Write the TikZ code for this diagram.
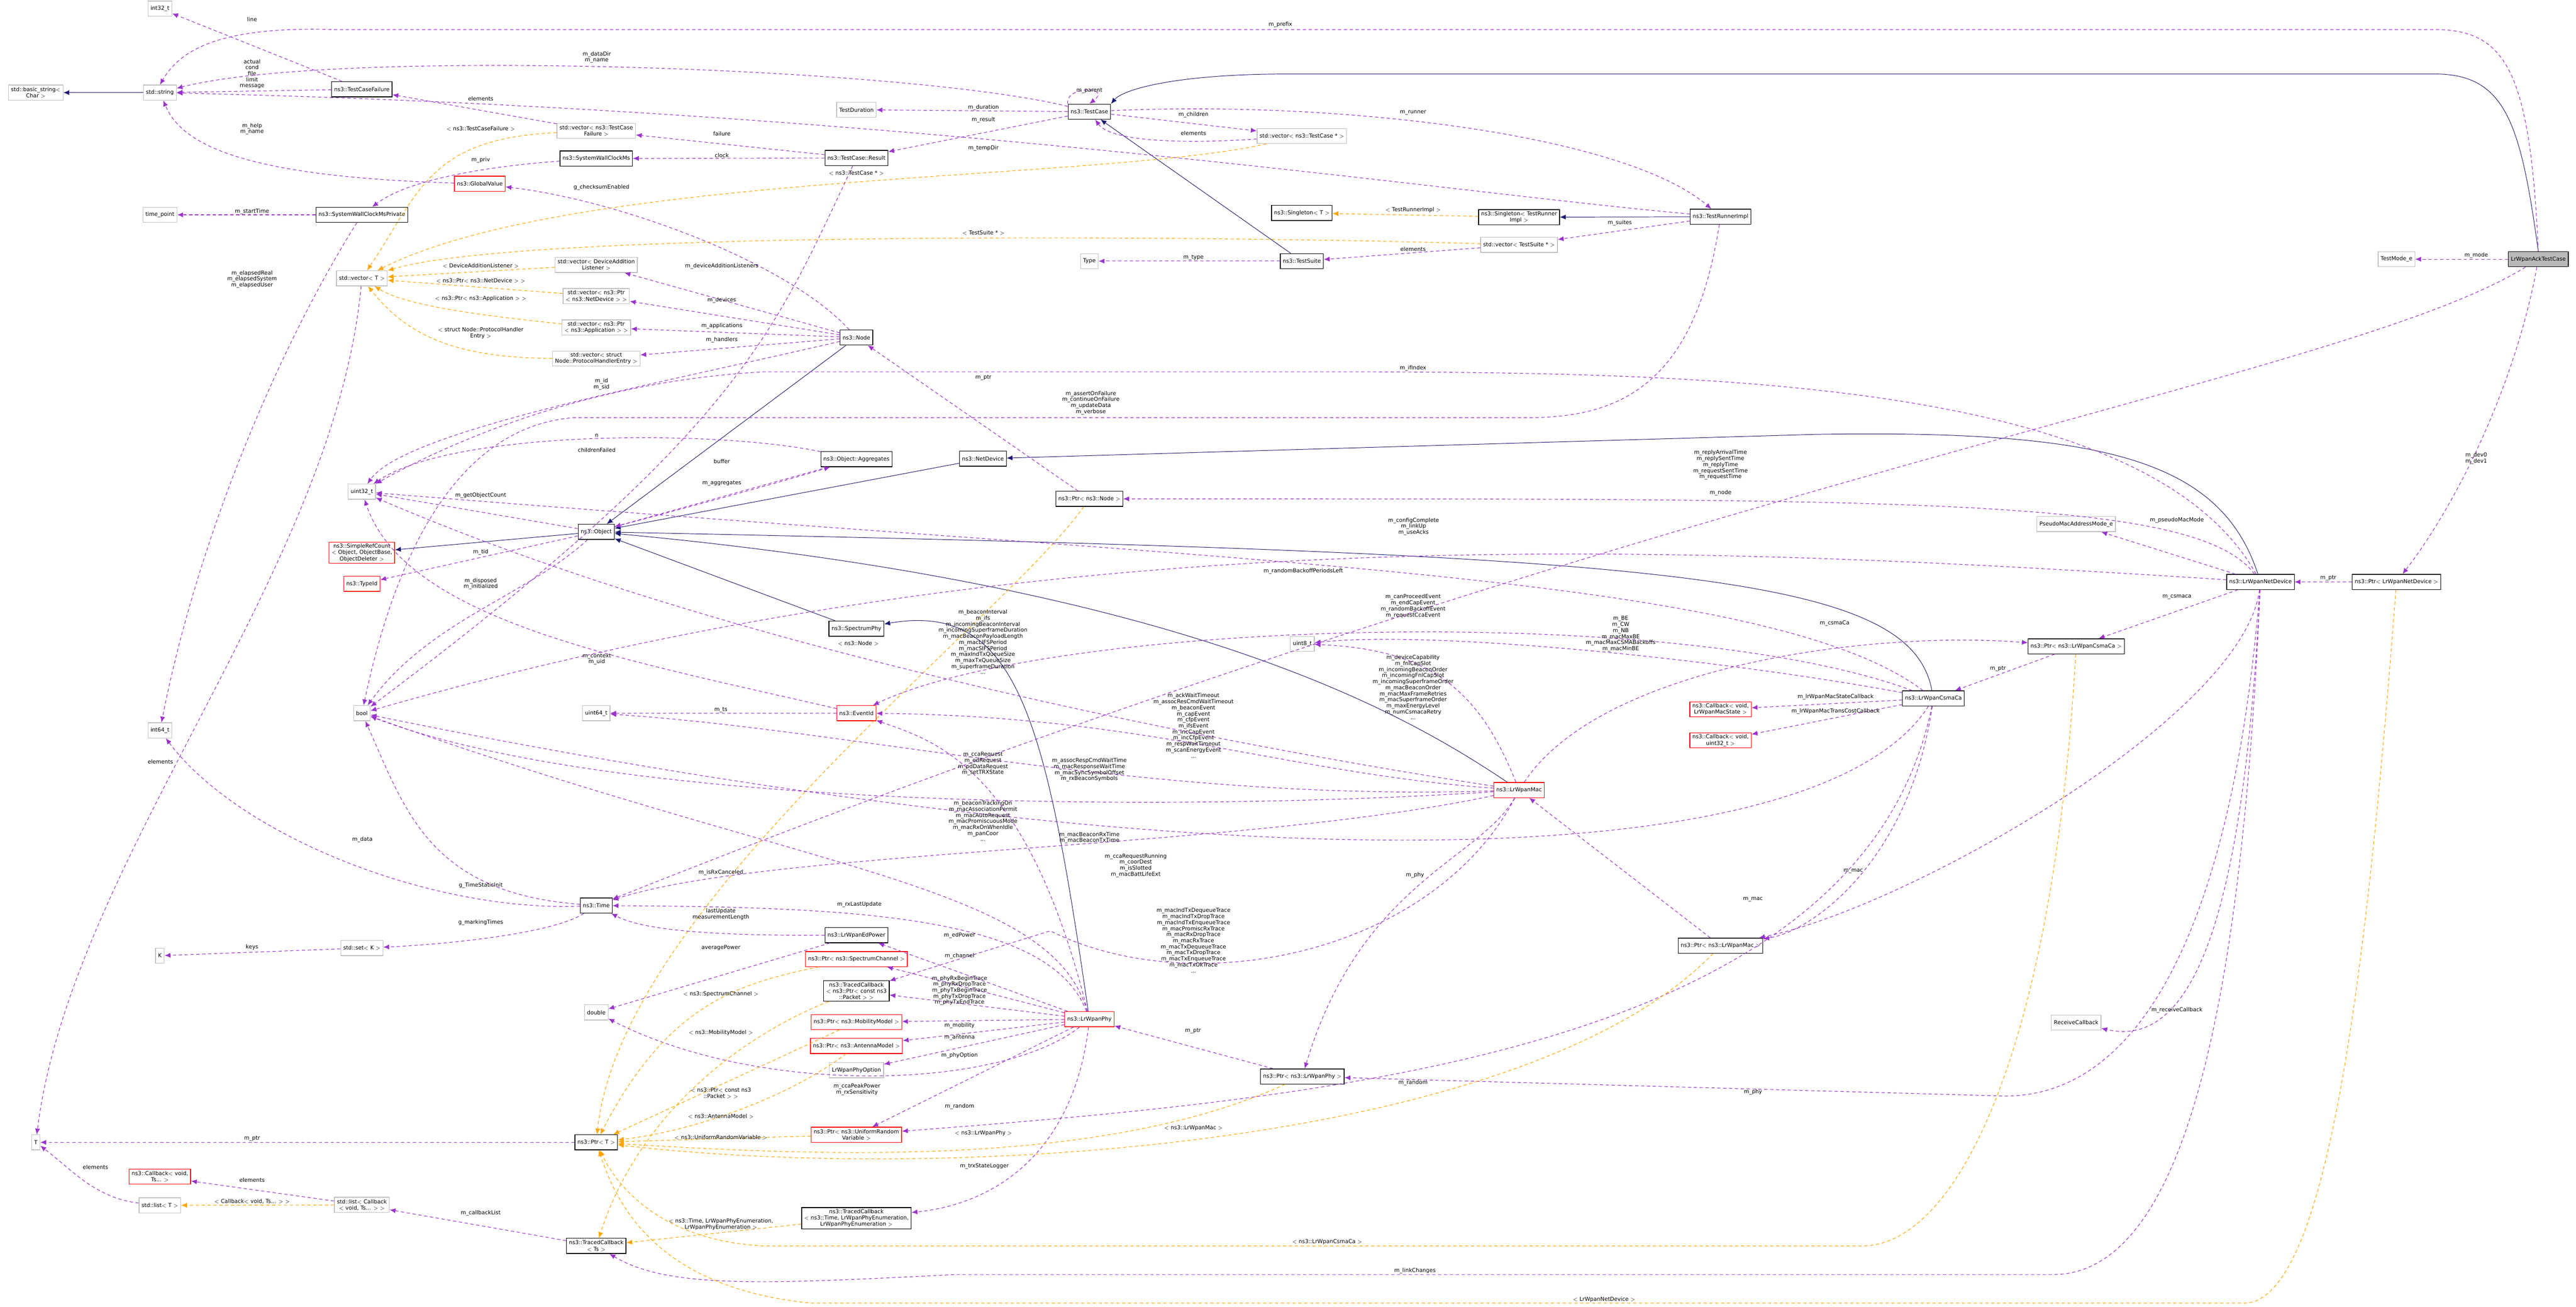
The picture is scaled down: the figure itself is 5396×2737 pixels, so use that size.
\documentclass[tikz,border=0pt]{standalone}
\usepackage{fontspec}
\setmainfont{DejaVu Sans}
\usetikzlibrary{arrows.meta}
\definecolor{usecol}{HTML}{9A32CD}
\definecolor{tplcol}{HTML}{FFA500}
\definecolor{inhcol}{HTML}{191970}
\tikzset{
  box/.style={draw=gray!50, line width=0.8pt, fill=white, font=\fontsize{6.5}{7.5}\selectfont, align=center, inner xsep=3pt, inner ysep=2pt, minimum height=18pt},
  cls/.style={box, draw=black},
  redcls/.style={box, draw=red},
  self/.style={box, fill=gray!55, draw=black},
  lbl/.style={font=\fontsize{6.5}{7.2}\selectfont, align=center, inner sep=0pt},
  use/.style={draw=usecol, line width=0.7pt, dash pattern=on 4pt off 3pt, -{Latex[length=7pt,width=6pt]}},
  tpl/.style={draw=tplcol, line width=0.7pt, dash pattern=on 4pt off 3pt, -{Latex[length=7pt,width=6pt]}},
  inh/.style={draw=inhcol, line width=0.6pt, -{Latex[length=7pt,width=6pt]}}
}
\begin{document}
\begin{tikzpicture}[x=0.02cm,y=-0.02cm]
  \useasboundingbox (0,0) rectangle (5396,2737);

  % left column
  \node[box] (i32) at (335,18) {int32\_t};
  \node[box] (bstr) at (75,194) {std::basic\_string$<$\\Char $>$};
  \node[box] (str) at (335,194) {std::string};
  \node[box] (tpt) at (335,450) {time\_point};
  \node[box] (i64) at (335,1530) {int64\_t};
  \node[box] (k) at (335,2002) {K};
  \node[box] (t) at (75,2393) {T};
  \node[redcls] (cbts) at (335,2465) {ns3::Callback$<$ void,\\Ts... $>$};
  \node[box] (lst) at (335,2525) {std::list$<$ T $>$};

  % second column
  \node[cls] (tcf) at (758,187) {ns3::TestCaseFailure};
  \node[cls] (swcp) at (758,450) {ns3::SystemWallClockMsPrivate};
  \node[box] (vect) at (758,583) {std::vector$<$ T $>$};
  \node[box] (u32) at (758,1030) {uint32\_t};
  \node[redcls] (src) at (758,1158) {ns3::SimpleRefCount\\$<$ Object, ObjectBase,\\ObjectDeleter $>$};
  \node[redcls] (tid) at (758,1223) {ns3::TypeId};
  \node[box] (bool) at (758,1494) {bool};
  \node[box] (setk) at (758,1986) {std::set$<$ K $>$};
  \node[box] (lstcb) at (758,2524) {std::list$<$ Callback\\$<$ void, Ts... $>$ $>$};

  % third column
  \node[box] (vtcf) at (1249,274) {std::vector$<$ ns3::TestCase\\Failure $>$};
  \node[cls] (swc) at (1249,332) {ns3::SystemWallClockMs};
  \node[redcls] (gv) at (1005,385) {ns3::GlobalValue};
  \node[box] (vdal) at (1249,555) {std::vector$<$ DeviceAddition\\Listener $>$};
  \node[box] (vnd) at (1249,620) {std::vector$<$ ns3::Ptr\\$<$ ns3::NetDevice $>$ $>$};
  \node[box] (vapp) at (1249,686) {std::vector$<$ ns3::Ptr\\$<$ ns3::Application $>$ $>$};
  \node[box] (vphe) at (1249,751) {std::vector$<$ struct\\Node::ProtocolHandlerEntry $>$};
  \node[cls] (obj) at (1249,1114) {ns3::Object};
  \node[box] (u64) at (1249,1494) {uint64\_t};
  \node[cls] (time) at (1249,1897) {ns3::Time};
  \node[box] (dbl) at (1249,2121) {double};
  \node[cls] (ptrt) at (1249,2393) {ns3::Ptr$<$ T $>$};
  \node[cls] (tcts) at (1249,2610) {ns3::TracedCallback\\$<$ Ts $>$};

  % fourth column
  \node[box] (tdur) at (1794,230) {TestDuration};
  \node[cls] (tcr) at (1794,331) {ns3::TestCase::Result};
  \node[cls] (node) at (1794,707) {ns3::Node};
  \node[cls] (agg) at (1794,962) {ns3::Object::Aggregates};
  \node[cls] (sphy) at (1794,1317) {ns3::SpectrumPhy};
  \node[redcls] (evt) at (1794,1494) {ns3::EventId};
  \node[cls] (edp) at (1794,1959) {ns3::LrWpanEdPower};
  \node[redcls] (psc) at (1794,2009) {ns3::Ptr$<$ ns3::SpectrumChannel $>$};
  \node[cls] (tcpk) at (1794,2076) {ns3::TracedCallback\\$<$ ns3::Ptr$<$ const ns3\\::Packet $>$ $>$};
  \node[redcls] (pmob) at (1794,2141) {ns3::Ptr$<$ ns3::MobilityModel $>$};
  \node[redcls] (pant) at (1794,2191) {ns3::Ptr$<$ ns3::AntennaModel $>$};
  \node[box] (popt) at (1794,2242) {LrWpanPhyOption};
  \node[redcls] (purv) at (1794,2377) {ns3::Ptr$<$ ns3::UniformRandom\\Variable $>$};
  \node[cls] (tctime) at (1794,2552) {ns3::TracedCallback\\$<$ ns3::Time, LrWpanPhyEnumeration,\\LrWpanPhyEnumeration $>$};

  % middle
  \node[cls] (tc) at (2282,234) {ns3::TestCase};
  \node[box] (type) at (2282,547) {Type};
  \node[cls] (nd) at (2059,961) {ns3::NetDevice};
  \node[cls] (pnode) at (2282,1045) {ns3::Ptr$<$ ns3::Node $>$};
  \node[redcls] (phy) at (2282,2135) {ns3::LrWpanPhy};
  \node[box] (vtc) at (2727,285) {std::vector$<$ ns3::TestCase * $>$};
  \node[cls] (sgt) at (2727,446) {ns3::Singleton$<$ T $>$};
  \node[cls] (ts) at (2727,547) {ns3::TestSuite};
  \node[box] (u8) at (2728,1349) {uint8\_t};
  \node[cls] (pphy) at (2728,2255) {ns3::Ptr$<$ ns3::LrWpanPhy $>$};
  \node[cls] (sgtr) at (3182,455) {ns3::Singleton$<$ TestRunner\\Impl $>$};
  \node[box] (vts) at (3182,513) {std::vector$<$ TestSuite * $>$};
  \node[redcls] (mac) at (3182,1655) {ns3::LrWpanMac};

  % right part
  \node[cls] (tri) at (3604,454) {ns3::TestRunnerImpl};
  \node[redcls] (cbst) at (3604,1486) {ns3::Callback$<$ void,\\LrWpanMacState $>$};
  \node[redcls] (cbu) at (3604,1551) {ns3::Callback$<$ void,\\uint32\_t $>$};
  \node[cls] (pmac) at (3604,1981) {ns3::Ptr$<$ ns3::LrWpanMac $>$};
  \node[cls] (csma) at (4050,1463) {ns3::LrWpanCsmaCa};
  \node[box] (pmm) at (4349,1098) {PseudoMacAddressMode\_e};
  \node[cls] (pcsma) at (4349,1354) {ns3::Ptr$<$ ns3::LrWpanCsmaCa $>$};
  \node[box] (rcb) at (4349,2142) {ReceiveCallback};
  \node[cls] (dev) at (4735,1219) {ns3::LrWpanNetDevice};
  \node[cls] (pdev) at (5020,1219) {ns3::Ptr$<$ LrWpanNetDevice $>$};
  \node[box] (tmode) at (5020,543) {TestMode\_e};
  \node[self] (ack) at (5317,543) {LrWpanAckTestCase};

  % inheritance
  \draw[inh] (str) -- (bstr);
  \draw[inh] (ack.north) .. controls (5280,260) and (5250,155) .. (5100,155) -- (2700,155) .. controls (2450,155) and (2350,190) .. (tc.north east);
  \draw[inh] (ts) -- (tc);
  \draw[inh] (tri) -- (sgtr);
  \draw[inh] (node) -- (obj);
  \draw[inh] (obj) -- (src);
  \draw[inh] (nd) -- (obj);
  \draw[inh] (dev) .. controls (4650,960) and (4400,900) .. (3800,910) -- (nd);
  \draw[inh] (csma) .. controls (4000,1200) and (3500,1160) .. (obj);
  \draw[inh] (mac) .. controls (2950,1500) and (2500,1230) .. (obj);
  \draw[inh] (sphy) -- (obj);
  \draw[inh] (phy) .. controls (2190,1500) and (2130,1260) .. (sphy);

  % test framework members
  \draw[use] (tcf) -- (i32);
  \node[lbl] (l1) at (528,40) {line};
  \draw[use] (tcf) -- (str);
  \node[lbl] (l2) at (528,155) {actual\\cond\\file\\limit\\message};
  \draw[use] (ack.north) .. controls (5300,150) and (5250,62) .. (5100,62) -- (700,62) .. controls (470,55) and (380,100) .. (str.north);
  \node[lbl] (l3) at (2682,52) {m\_prefix};
  \draw[use] (tc) .. controls (1900,140) and (700,100) .. (str);
  \node[lbl] (l4) at (1250,120) {m\_dataDir\\m\_name};
  \draw[use] (tri) .. controls (3000,400) and (1900,230) .. (str);
  \node[lbl] (l5) at (2060,311) {m\_tempDir};
  \draw[use] (gv) .. controls (500,370) and (380,300) .. (str);
  \node[lbl] (l6) at (528,270) {m\_help\\m\_name};
  \draw[use] (vtcf) -- (tcf);
  \node[lbl] (l7) at (1007,207) {elements};
  \draw[tpl] (vtcf) .. controls (900,290) and (880,400) .. (vect);
  \node[lbl] (l8) at (1007,270) {$<$ ns3::TestCaseFailure $>$};
  \draw[use] (tcr) -- (vtcf);
  \node[lbl] (l9) at (1512,280) {failure};
  \draw[use] (tcr) -- (swc);
  \node[lbl] (l10) at (1512,325) {clock};
  \draw[use] (swc) .. controls (1000,350) and (850,380) .. (swcp);
  \node[lbl] (l11) at (1007,335) {m\_priv};
  \draw[use] (swcp) -- (tpt);
  \node[lbl] (l12) at (528,443) {m\_startTime};
  \draw[use] (swcp) .. controls (600,700) and (420,1100) .. (i64);
  \node[lbl] (l13) at (528,585) {m\_elapsedReal\\m\_elapsedSystem\\m\_elapsedUser};
  \draw[use] (node) .. controls (1650,550) and (1300,420) .. (gv);
  \node[lbl] (l14) at (1260,392) {g\_checksumEnabled};
  \draw[tpl] (vtc) .. controls (2300,380) and (1200,360) .. (vect);
  \node[lbl] (l15) at (1794,363) {$<$ ns3::TestCase * $>$};
  \draw[tpl] (vts) .. controls (2600,495) and (1100,480) .. (vect);
  \node[lbl] (l16) at (2060,488) {$<$ TestSuite * $>$};
  \draw[tpl] (vdal) -- (vect);
  \node[lbl] (l17) at (1007,557) {$<$ DeviceAdditionListener $>$};
  \draw[tpl] (vnd) -- (vect);
  \node[lbl] (l18) at (1007,588) {$<$ ns3::Ptr$<$ ns3::NetDevice $>$ $>$};
  \draw[tpl] (vapp) .. controls (1000,660) and (850,640) .. (vect);
  \node[lbl] (l19) at (1007,625) {$<$ ns3::Ptr$<$ ns3::Application $>$ $>$};
  \draw[tpl] (vphe) .. controls (950,750) and (850,700) .. (vect);
  \node[lbl] (l20) at (1007,698) {$<$ struct Node::ProtocolHandler\\Entry $>$};
  \draw[use] (node) -- (vdal);
  \node[lbl] (l21) at (1512,558) {m\_deviceAdditionListeners};
  \draw[use] (node) -- (vnd);
  \node[lbl] (l22) at (1512,629) {m\_devices};
  \draw[use] (node) -- (vapp);
  \node[lbl] (l23) at (1512,683) {m\_applications};
  \draw[use] (node) -- (vphe);
  \node[lbl] (l24) at (1512,712) {m\_handlers};
  \draw[use] (node) .. controls (1400,800) and (850,900) .. (u32);
  \node[lbl] (l25) at (1260,805) {m\_id\\m\_sid};
  \draw[use] (vect) .. controls (700,1200) and (150,1800) .. (t);
  \node[lbl] (l26) at (336,1596) {elements};
  \draw[use] (tc) -- (tdur);
  \node[lbl] (l27) at (2060,225) {m\_duration};
  \draw[use] (tc) -- (tcr);
  \node[lbl] (l28) at (2060,251) {m\_result};
  \draw[use] (tc.north west) .. controls (2230,180) and (2330,180) .. (tc.north);
  \node[lbl] (l29) at (2282,190) {m\_parent};
  \draw[use] (tc) -- (vtc);
  \node[lbl] (l30) at (2500,240) {m\_children};
  \draw[use] (vtc) .. controls (2500,300) and (2330,300) .. (tc);
  \node[lbl] (l31) at (2500,279) {elements};
  \draw[use] (tc) .. controls (2800,210) and (3400,280) .. (tri);
  \node[lbl] (l32) at (2960,236) {m\_runner};
  \draw[use] (ts) -- (type);
  \node[lbl] (l33) at (2500,540) {m\_type};
  \draw[use] (vts) -- (ts);
  \node[lbl] (l34) at (2960,522) {elements};
  \draw[use] (tri) -- (vts);
  \node[lbl] (l35) at (3393,467) {m\_suites};
  \draw[tpl] (sgtr) -- (sgt);
  \node[lbl] (l36) at (2960,440) {$<$ TestRunnerImpl $>$};
  \draw[use] (ack) -- (tmode);
  \node[lbl] (l37) at (5187,535) {m\_mode};
  \draw[use] (tri) .. controls (3550,800) and (3400,875) .. (3200,875) -- (1200,875) .. controls (900,900) and (800,1300) .. (bool);
  \node[lbl] (l38) at (2285,844) {m\_assertOnFailure\\m\_continueOnFailure\\m\_updateData\\m\_verbose};
  \draw[use] (tcr) .. controls (1620,700) and (1550,900) .. (bool);
  \node[lbl] (l39) at (1250,943) {childrenFailed};

  % object model
  \draw[use] (obj) -- (tid);
  \node[lbl] (l40) at (1007,1157) {m\_tid};
  \draw[use] (obj) .. controls (1100,1250) and (900,1300) .. (bool);
  \node[lbl] (l41) at (1007,1223) {m\_disposed\\m\_initialized};
  \draw[use] (obj) -- (u32);
  \node[lbl] (l42) at (1007,1038) {m\_getObjectCount};
  \draw[use] (obj) .. controls (1450,1060) and (1600,1020) .. (agg);
  \node[lbl] (l43) at (1512,1012) {m\_aggregates};
  \draw[use] (agg) .. controls (1500,900) and (950,900) .. (u32);
  \node[lbl] (l44) at (1250,912) {n};
  \draw[use] (agg) -- (obj);
  \node[lbl] (l45) at (1512,966) {buffer};
  \draw[use] (dev) .. controls (4500,800) and (3600,779) .. (2800,779) -- (1600,779) .. controls (1200,800) and (900,950) .. (u32);
  \node[lbl] (l46) at (2960,771) {m\_ifIndex};
  \draw[use] (pnode) -- (node);
  \node[lbl] (l47) at (2060,791) {m\_ptr};
  \draw[use] (ack) .. controls (4900,800) and (3500,1000) .. (time);
  \node[lbl] (l48) at (3604,974) {m\_replyArrivalTime\\m\_replySentTime\\m\_replyTime\\m\_requestSentTime\\m\_requestTime};
  \draw[use] (dev) .. controls (4600,1040) and (4000,1045) .. (pnode);
  \node[lbl] (l49) at (3604,1032) {m\_node};
  \draw[tpl] (pnode) .. controls (2100,1300) and (1300,1900) .. (ptrt);
  \node[lbl] (l50) at (1798,1348) {$<$ ns3::Node $>$};
  \draw[use] (dev) .. controls (3500,1140) and (2200,1080) .. (bool);
  \node[lbl] (l51) at (2961,1103) {m\_configComplete\\m\_linkUp\\m\_useAcks};
  \draw[use] (dev) -- (pmm);
  \node[lbl] (l52) at (4560,1090) {m\_pseudoMacMode};
  \draw[use] (dev) -- (pcsma);
  \node[lbl] (l53) at (4560,1251) {m\_csmaca};
  \draw[use] (pdev) -- (dev);
  \node[lbl] (l54) at (4877,1211) {m\_ptr};
  \draw[use] (ack) .. controls (5270,800) and (5150,1050) .. (pdev);
  \node[lbl] (l55) at (5187,960) {m\_dev0\\m\_dev1};
  \draw[use] (pcsma) -- (csma);
  \node[lbl] (l56) at (4185,1401) {m\_ptr};

  % csma-ca and mac
  \draw[use] (csma) -- (cbst);
  \node[lbl] (l57) at (3845,1460) {m\_lrWpanMacStateCallback};
  \draw[use] (csma) -- (cbu);
  \node[lbl] (l58) at (3845,1490) {m\_lrWpanMacTransCostCallback};
  \draw[use] (csma) .. controls (3700,1200) and (2600,1180) .. (u32);
  \node[lbl] (l59) at (2730,1196) {m\_randomBackoffPeriodsLeft};
  \draw[use] (csma) .. controls (3500,1260) and (2200,1300) .. (evt);
  \node[lbl] (l60) at (2960,1270) {m\_canProceedEvent\\m\_endCapEvent\\m\_randomBackoffEvent\\m\_requestCcaEvent};
  \draw[use] (csma) .. controls (3600,1380) and (3000,1320) .. (u8);
  \node[lbl] (l61) at (3395,1328) {m\_BE\\m\_CW\\m\_NB\\m\_macMaxBE\\m\_macMaxCSMABackoffs\\m\_macMinBE};
  \draw[use] (mac) .. controls (3350,1400) and (3900,1320) .. (pcsma);
  \node[lbl] (l62) at (3843,1306) {m\_csmaCa};
  \draw[use] (csma) .. controls (4000,1800) and (3800,1950) .. (pmac);
  \node[lbl] (l63) at (3672,1884) {m\_mac};
  \draw[use] (dev) .. controls (4700,1500) and (4000,1900) .. (pmac);
  \node[lbl] (l64) at (3882,1825) {m\_mac};
  \draw[use] (pmac) -- (mac);
  \draw[use] (csma) .. controls (3800,1850) and (2500,1850) .. (bool);
  \node[lbl] (l65) at (2379,1813) {m\_ccaRequestRunning\\m\_coorDest\\m\_isSlotted\\m\_macBattLifeExt};
  \draw[use] (mac) .. controls (3100,1450) and (3000,1360) .. (u8);
  \node[lbl] (l66) at (2960,1440) {m\_deviceCapability\\m\_fnlCapSlot\\m\_incomingBeaconOrder\\m\_incomingFnlCapSlot\\m\_incomingSuperframeOrder\\m\_macBeaconOrder\\m\_macMaxFrameRetries\\m\_macSuperframeOrder\\m\_maxEnergyLevel\\m\_numCsmacaRetry\\...};
  \draw[use] (mac) .. controls (2700,1620) and (2400,1500) .. (evt);
  \node[lbl] (l67) at (2500,1520) {m\_ackWaitTimeout\\m\_assocResCmdWaitTimeout\\m\_beaconEvent\\m\_capEvent\\m\_cfpEvent\\m\_ifsEvent\\m\_incCapEvent\\m\_incCfpEvent\\m\_respWaitTimeout\\m\_scanEnergyEvent\\...};
  \draw[use] (mac) .. controls (2400,1680) and (1800,1530) .. (u64);
  \node[lbl] (l68) at (2282,1613) {m\_assocRespCmdWaitTime\\m\_macResponseWaitTime\\m\_macSyncSymbolOffset\\m\_rxBeaconSymbols};
  \draw[use] (mac) .. controls (2500,1550) and (1500,1350) .. (u32);
  \node[lbl] (l69) at (2059,1345) {m\_beaconInterval\\m\_ifs\\m\_incomingBeaconInterval\\m\_incomingSuperframeDuration\\m\_macBeaconPayloadLength\\m\_macLIFSPeriod\\m\_macSIFSPeriod\\m\_maxIndTxQueueSize\\m\_maxTxQueueSize\\m\_superframeDuration\\...};
  \draw[use] (mac) .. controls (2500,1700) and (1300,1700) .. (bool);
  \node[lbl] (l70) at (2059,1720) {m\_beaconTrackingOn\\m\_macAssociationPermit\\m\_macAutoRequest\\m\_macPromiscuousMode\\m\_macRxOnWhenIdle\\m\_panCoor\\...};
  \draw[use] (mac) .. controls (2600,1780) and (1600,1780) .. (time);
  \node[lbl] (l71) at (2282,1755) {m\_macBeaconRxTime\\m\_macBeaconTxTime};
  \draw[use] (mac) .. controls (3000,2000) and (2500,2100) .. (2200,1950) -- (tcpk);
  \node[lbl] (l72) at (2500,1970) {m\_macIndTxDequeueTrace\\m\_macIndTxDropTrace\\m\_macIndTxEnqueueTrace\\m\_macPromiscRxTrace\\m\_macRxDropTrace\\m\_macRxTrace\\m\_macTxDequeueTrace\\m\_macTxDropTrace\\m\_macTxEnqueueTrace\\m\_macTxOkTrace\\...};
  \draw[use] (mac) .. controls (3100,1800) and (2850,1850) .. (pphy);
  \node[lbl] (l73) at (2964,1833) {m\_phy};

  % phy
  \draw[use] (phy) .. controls (2150,1600) and (1950,1550) .. (evt);
  \node[lbl] (l74) at (2059,1600) {m\_ccaRequest\\m\_edRequest\\m\_pdDataRequest\\m\_setTRXState};
  \draw[use] (phy) .. controls (2200,1850) and (1700,1830) .. (bool);
  \node[lbl] (l75) at (1510,1828) {m\_isRxCanceled};
  \draw[use] (phy) .. controls (2200,1920) and (1800,1900) .. (time);
  \node[lbl] (l76) at (1800,1895) {m\_rxLastUpdate};
  \draw[use] (phy) -- (edp);
  \node[lbl] (l77) at (2010,1960) {m\_edPower};
  \draw[use] (edp) .. controls (1500,1960) and (1350,1950) .. (time);
  \node[lbl] (l78) at (1510,1915) {lastUpdate\\measurementLength};
  \draw[use] (edp) -- (dbl);
  \node[lbl] (l79) at (1510,1985) {averagePower};
  \draw[use] (phy) -- (psc);
  \node[lbl] (l80) at (2010,2003) {m\_channel};
  \draw[use] (phy) -- (tcpk);
  \node[lbl] (l81) at (2010,2075) {m\_phyRxBeginTrace\\m\_phyRxDropTrace\\m\_phyTxBeginTrace\\m\_phyTxDropTrace\\m\_phyTxEndTrace};
  \draw[use] (phy) -- (pmob);
  \node[lbl] (l82) at (2010,2148) {m\_mobility};
  \draw[use] (phy) -- (pant);
  \node[lbl] (l83) at (2010,2173) {m\_antenna};
  \draw[use] (phy) -- (popt);
  \node[lbl] (l84) at (2010,2211) {m\_phyOption};
  \draw[use] (phy) .. controls (2100,2280) and (1600,2300) .. (dbl);
  \node[lbl] (l85) at (1795,2282) {m\_ccaPeakPower\\m\_rxSensitivity};
  \draw[use] (phy) -- (purv);
  \node[lbl] (l86) at (2010,2318) {m\_random};
  \draw[use] (phy) .. controls (2250,2400) and (2100,2520) .. (tctime);
  \node[lbl] (l87) at (2062,2443) {m\_trxStateLogger};
  \draw[use] (pphy) -- (phy);
  \node[lbl] (l88) at (2499,2160) {m\_ptr};
  \draw[use] (csma) .. controls (3900,2200) and (2800,2300) .. (purv);
  \node[lbl] (l89) at (2960,2268) {m\_random};
  \draw[use] (dev) .. controls (4680,1900) and (4500,2296) .. (4200,2296) -- (pphy);
  \node[lbl] (l90) at (3672,2288) {m\_phy};
  \draw[use] (dev) .. controls (4700,1900) and (4600,2200) .. (rcb);
  \node[lbl] (l91) at (4560,2116) {m\_receiveCallback};
  \draw[use] (dev) .. controls (4700,2000) and (4600,2670) .. (4300,2670) -- (2000,2670) .. controls (1600,2690) and (1400,2700) .. (tcts);
  \node[lbl] (l92) at (2964,2662) {m\_linkChanges};

  % templates of Ptr
  \draw[tpl] (pphy) .. controls (2300,2450) and (1700,2420) .. (ptrt);
  \node[lbl] (l93) at (2060,2374) {$<$ ns3::LrWpanPhy $>$};
  \draw[tpl] (pmac) .. controls (3200,2400) and (2000,2480) .. (ptrt);
  \node[lbl] (l94) at (2500,2363) {$<$ ns3::LrWpanMac $>$};
  \draw[tpl] (pcsma) .. controls (4300,2200) and (4100,2610) .. (3900,2610) -- (1600,2610) .. controls (1400,2600) and (1300,2500) .. (ptrt);
  \node[lbl] (l95) at (2780,2602) {$<$ ns3::LrWpanCsmaCa $>$};
  \draw[tpl] (pdev) .. controls (4960,2000) and (4880,2730) .. (4700,2730) -- (1700,2730) .. controls (1400,2700) and (1300,2550) .. (ptrt);
  \node[lbl] (l96) at (3360,2722) {$<$ LrWpanNetDevice $>$};
  \draw[tpl] (psc) .. controls (1550,2060) and (1400,2100) .. (ptrt);
  \node[lbl] (l97) at (1510,2082) {$<$ ns3::SpectrumChannel $>$};
  \draw[tpl] (pmob) -- (ptrt);
  \node[lbl] (l98) at (1510,2163) {$<$ ns3::MobilityModel $>$};
  \draw[tpl] (tcpk) .. controls (1600,2150) and (1350,2300) .. (tcts);
  \node[lbl] (l99) at (1510,2290) {$<$ ns3::Ptr$<$ const ns3\\::Packet $>$ $>$};
  \draw[tpl] (pant) .. controls (1650,2300) and (1450,2370) .. (ptrt);
  \node[lbl] (l100) at (1510,2338) {$<$ ns3::AntennaModel $>$};
  \draw[tpl] (purv) -- (ptrt);
  \node[lbl] (l101) at (1510,2383) {$<$ ns3::UniformRandomVariable $>$};
  \draw[tpl] (tctime) -- (tcts);
  \node[lbl] (l102) at (1510,2565) {$<$ ns3::Time, LrWpanPhyEnumeration,\\LrWpanPhyEnumeration $>$};

  % lower left
  \draw[use] (ptrt) -- (t);
  \node[lbl] (l103) at (528,2385) {m\_ptr};
  \draw[use] (lstcb) -- (cbts);
  \node[lbl] (l104) at (528,2472) {elements};
  \draw[tpl] (lstcb) -- (lst);
  \node[lbl] (l105) at (528,2517) {$<$ Callback$<$ void, Ts... $>$ $>$};
  \draw[use] (lst) .. controls (200,2510) and (150,2450) .. (t);
  \node[lbl] (l106) at (200,2445) {elements};
  \draw[use] (tcts) -- (lstcb);
  \node[lbl] (l107) at (1007,2541) {m\_callbackList};
  \draw[use] (time) .. controls (900,1870) and (850,1700) .. (bool);
  \node[lbl] (l108) at (1007,1855) {g\_TimeStaticInit};
  \draw[use] (time) .. controls (900,1910) and (500,1750) .. (i64);
  \node[lbl] (l109) at (759,1759) {m\_data};
  \draw[use] (time) .. controls (1150,1960) and (900,1980) .. (setk);
  \node[lbl] (l110) at (1007,1933) {g\_markingTimes};
  \draw[use] (setk) -- (k);
  \node[lbl] (l111) at (528,1984) {keys};
  \draw[use] (evt) -- (u64);
  \node[lbl] (l112) at (1510,1487) {m\_ts};
  \draw[use] (evt) .. controls (1300,1380) and (850,1300) .. (u32);
  \node[lbl] (l113) at (1250,1381) {m\_context\\m\_uid};
\end{tikzpicture}
\end{document}
